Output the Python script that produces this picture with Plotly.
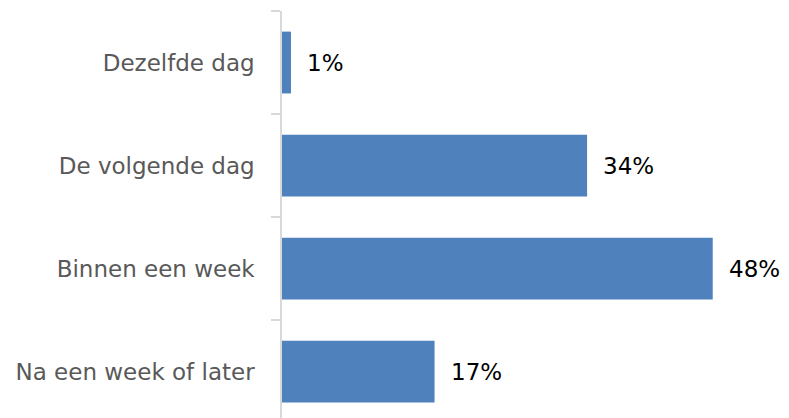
import plotly.graph_objects as go

categories = ["Dezelfde dag", "De volgende dag", "Binnen een week", "Na een week of later"]
values = [1, 34, 48, 17]
labels = ["1%", "34%", "48%", "17%"]

FONT = "Tahoma, DejaVu Sans, sans-serif"

fig = go.Figure()
fig.add_trace(go.Bar(
    x=values, y=categories, orientation="h",
    marker=dict(color="#4F81BD", line=dict(width=0)),
    width=0.6, hoverinfo="skip",
))
for v, c, t in zip(values, categories, labels):
    fig.add_annotation(x=v, y=c, text=t, showarrow=False, xanchor="left",
                       xshift=14, font=dict(family=FONT, size=23, color="#000000"))

fig.update_layout(
    width=789, height=418,
    margin=dict(l=282, r=0, t=11, b=0),
    paper_bgcolor="white", plot_bgcolor="white",
    showlegend=False,
    bargap=0.4,
)
fig.update_xaxes(range=[0, 56.5], visible=False)
fig.update_yaxes(
    type="category", categoryorder="array", categoryarray=categories,
    range=[3.45, -0.5],
    showline=True, linecolor="#D9D9D9", linewidth=1.5,
    ticks="outside", tickson="boundaries", ticklen=9, tickcolor="#D9D9D9", tickwidth=1.5,
    showgrid=False, zeroline=False,
    tickfont=dict(family=FONT, size=23, color="#595959"),
    ticklabelstandoff=21,
)
fig.write_html("out.html", config={"displayModeBar": False},
               post_script="document.body.style.margin='0';document.body.style.overflow='hidden';")
